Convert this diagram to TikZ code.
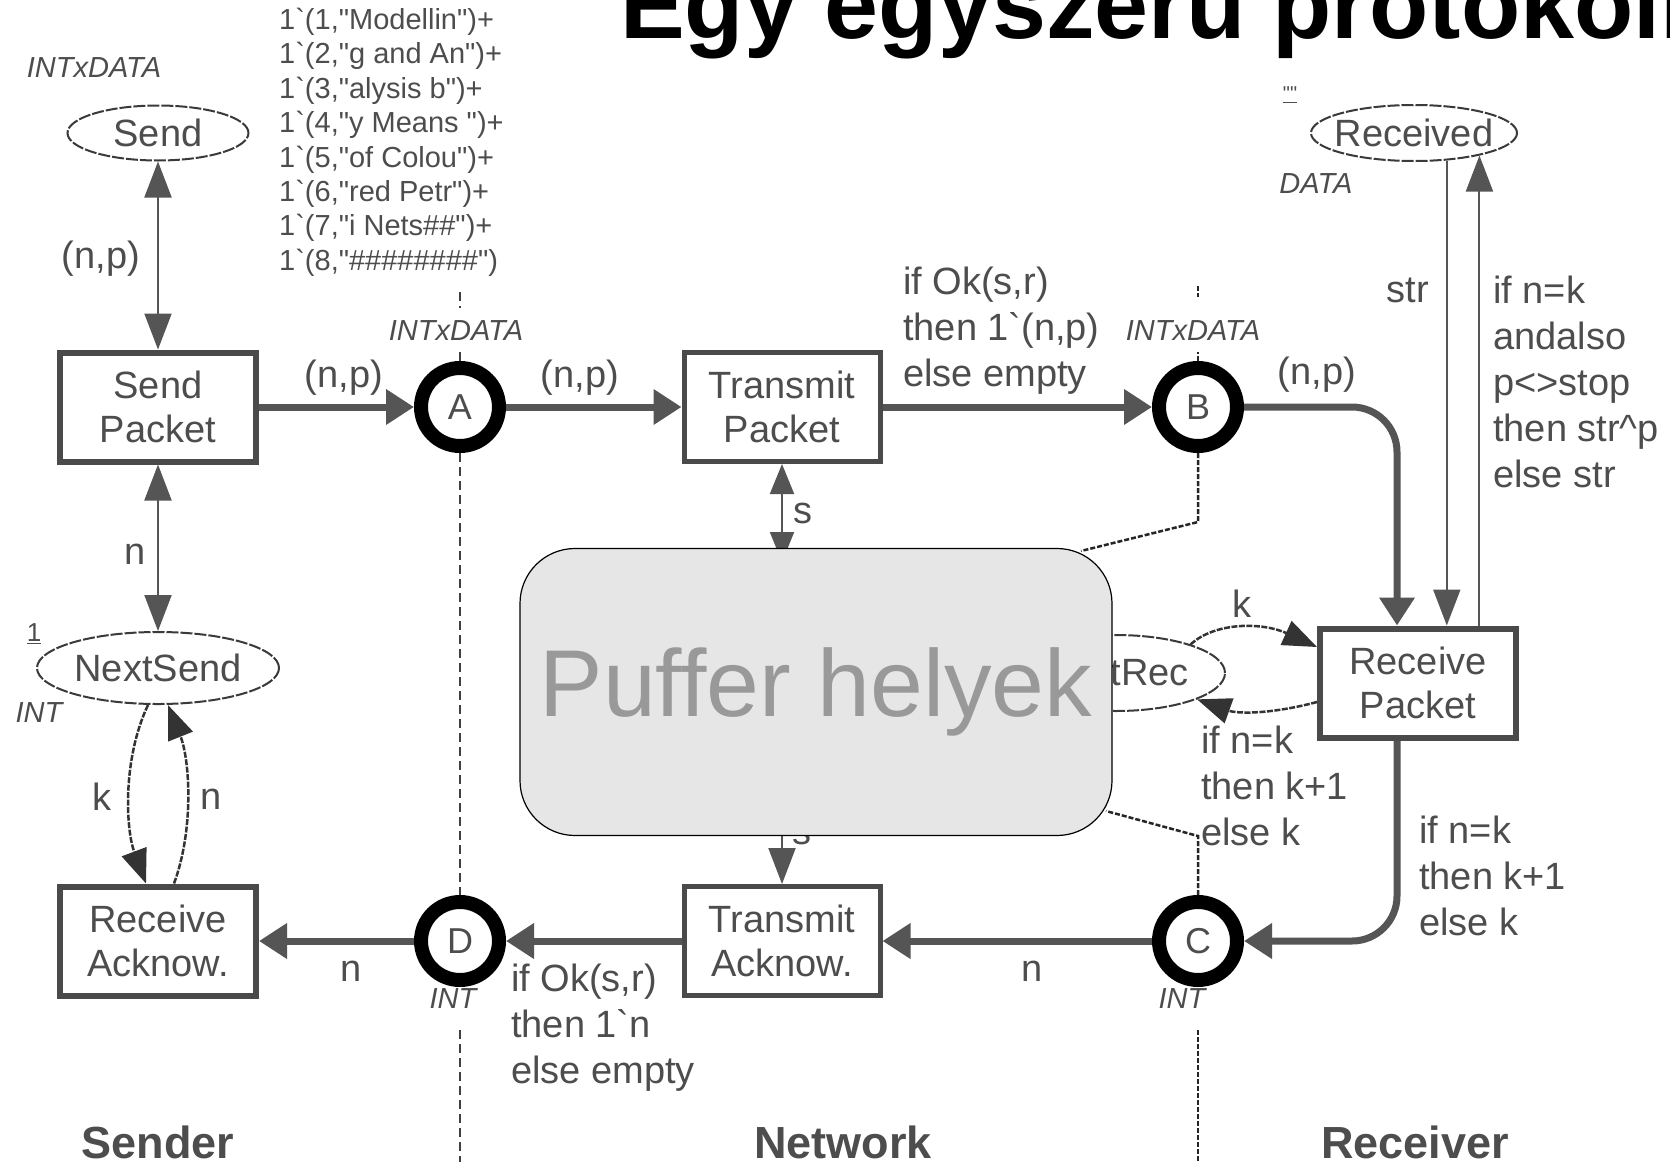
\documentclass[tikz,border=0pt]{standalone}
\usepackage{fontspec}
\setmainfont{Liberation Sans}[Ligatures=TeXOff]
\usetikzlibrary{shapes.geometric,arrows.meta}
\definecolor{txt}{HTML}{4D4D4D}
\definecolor{arcc}{HTML}{555555}
\definecolor{boxc}{HTML}{4A4A4A}
\definecolor{plc}{HTML}{3A3A3A}
\definecolor{pfill}{HTML}{E6E6E6}
\definecolor{ptext}{HTML}{999999}
\pgfdeclarelayer{fg}
\pgfsetlayers{main,fg}
\begin{document}
\begin{tikzpicture}[x=1pt,y=-1pt,
  lbl/.style={font=\fontsize{38}{46}\selectfont, text=txt, inner sep=0pt},
  typ/.style={font=\fontsize{29}{34}\selectfont\itshape, text=txt, inner sep=0pt},
  trans/.style={draw=boxc, line width=6pt, minimum width=196pt, minimum height=109pt, align=center, font=\fontsize{38}{44}\selectfont, text=txt, inner sep=0pt},
  place/.style={ellipse, draw=plc, line width=2pt, dash pattern=on 12pt off 2pt, font=\fontsize{38}{44}\selectfont, text=txt, inner sep=0pt},
  ring/.style={circle, draw=black, line width=14pt, fill=white, minimum size=78pt, inner sep=0pt, font=\fontsize{36}{44}\selectfont, text=txt},
  thk/.style={draw=arcc, line width=7pt, -{Triangle[length=28pt,width=34pt]}},
  thn/.style={draw=arcc, line width=2pt, -{Triangle[length=36pt,width=27pt]}},
  thnboth/.style={draw=arcc, line width=2pt, {Triangle[length=36pt,width=27pt]}-{Triangle[length=36pt,width=27pt]}},
  shortboth/.style={draw=arcc, line width=2pt, {Triangle[length=30pt,width=24pt]}-{Triangle[length=30pt,width=24pt]}},
  thnd/.style={draw=black!80, line width=2.5pt, dash pattern=on 6pt off 1.5pt, -{Triangle[length=34pt,width=26pt]}},
  ldash/.style={draw=black!75, line width=2pt, dash pattern=on 9pt off 5pt},
  rdash/.style={draw=black!85, line width=2.5pt, dash pattern=on 5pt off 2pt},
  bottom/.style={font=\fontsize{45}{50}\selectfont\bfseries, text=txt, inner sep=0pt, anchor=base}
]
\useasboundingbox (0,0) rectangle (1670,1170);
\clip (0,0) rectangle (1670,1170);
\fill[white] (0,0) rectangle (1670,1170);

% title
\node[anchor=base west, inner sep=0pt, font=\fontsize{97}{100}\selectfont\bfseries] (title) at (620,38) {Egy egyszerű protokoll};

% buffer box (on top)
\begin{pgfonlayer}{fg}
\node[draw=black, line width=1.2pt, fill=pfill, rounded corners=55pt, minimum width=592pt, minimum height=287pt, inner sep=0pt, font=\fontsize{95}{100}\selectfont, text=ptext] (pf) at (816,692) {Puffer helyek};
\end{pgfonlayer}

% places
\node[place, minimum width=181pt, minimum height=55pt] (send) at (158,133) {Send};
\node[place, minimum width=242pt, minimum height=72pt] (ns) at (158,668) {NextSend};
\node[place, minimum width=206pt, minimum height=56pt, inner xsep=-22pt] (rec) at (1414,133) {Received};
\node[place, minimum width=218pt, minimum height=76pt, inner xsep=-8pt] (nr) at (1116,673) {NextRec};

% transitions
\node[trans] (sp) at (158,407) {Send\\Packet};
\node[trans] (ra) at (158,941) {Receive\\Acknow.};
\node[trans, line width=5pt] (tp) at (782,407) {Transmit\\Packet};
\node[trans, line width=5pt] (ta) at (782,941) {Transmit\\Acknow.};
\node[trans] (rp) at (1418,683) {Receive\\Packet};

% highlighted places
\node[ring] (A) at (460,407) {A};
\node[ring] (B) at (1198,407) {B};
\node[ring] (C) at (1198,941) {C};
\node[ring] (D) at (460,941) {D};

% type and marking labels
\node[typ] (t1) at (94,68) {INTxDATA};
\node[typ] (t2) at (456,331) {INTxDATA};
\node[typ] (t3) at (1193,331) {INTxDATA};
\node[typ] (t4) at (1316,184) {DATA};
\node[typ] (t5) at (39,713) {INT};
\node[typ] (t6) at (453,999) {INT};
\node[typ] (t7) at (1182,999) {INT};
\node[font=\fontsize{26}{30}\selectfont, text=txt, inner sep=0pt] (m1) at (34,634) {\underline{1}};
\node[font=\fontsize{20}{24}\selectfont, text=txt, inner sep=0pt] (m2) at (1290,95) {\underline{""}};
\node[anchor=north west, align=left, font=\fontsize{29}{34.4}\selectfont, text=txt, inner sep=0pt] (init) at (279,8) {1`(1,"Modellin")+\\1`(2,"g and An")+\\1`(3,"alysis b")+\\1`(4,"y Means ")+\\1`(5,"of Colou")+\\1`(6,"red Petr")+\\1`(7,"i Nets\#\#")+\\1`(8,"\#\#\#\#\#\#\#\#")};

% separators
\draw[ldash] (460,292) -- (460,308);
\draw[ldash] (A.north) -- ++(0,-10);
\draw[ldash] (A.south) -- (D.north);
\draw[ldash] (460,1030) -- (460,1162);
\draw[rdash] (1198,286) -- (1198,297);
\draw[rdash] (B.north) -- ++(0,-9);
\draw[rdash] (B.south) -- (1198,522) -- (1081,551);
\draw[rdash] (C.north) -- (1198,836) -- (1106,811);
\draw[rdash] (1198,1030) -- (1198,1162);

% arcs sender
\draw[thnboth] (send.south) -- (sp.north);
\node[lbl] (l1) at (101,259) {(n,p)};
\draw[thnboth] (sp.south) -- (ns.north);
\node[lbl] (l2) at (135,554) {n};
\draw[thnd] ([xshift=-10pt]ns.south) .. controls (122,760) and (126,830) .. ([xshift=-12pt]ra.north);
\node[lbl] (l3) at (102,797) {k};
\draw[thnd] ([xshift=16pt]ra.north) .. controls (194,830) and (190,760) .. ([xshift=10pt]ns.south);
\node[lbl] (l4) at (211,799) {n};

% arcs top row
\draw[thk] (sp.east) -- (A.west);
\node[lbl] (l5) at (344,378) {(n,p)};
\draw[thk] (A.east) -- (tp.west);
\node[lbl] (l6) at (580,378) {(n,p)};
\draw[thk] (tp.east) -- (B.west);
\node[lbl, anchor=north west, align=left] (l7) at (903,267) {if Ok(s,r)\\then 1`(n,p)\\else empty};
\path (rp.north west) ++(80,0) coordinate (rpin);
\draw[thk, rounded corners=45pt] (B.east) -| (rpin);
\node[lbl] (l8) at (1317,375) {(n,p)};

% received
\draw[thn] (rec.-40.8) -- (rec.-40.8 |- rp.north);
\node[lbl] (l9) at (1408,290) {str};
\draw[thn] (rec.-19.7 |- rp.north) -- (rec.-19.7);
\node[lbl, anchor=north west, align=left] (l10) at (1493,276) {if n=k\\andalso\\p<>stop\\then str\textasciicircum p\\else str};

% NextRec arcs
\draw[thnd] (nr.21) .. controls (1215,622) and (1262,622) .. ([yshift=36pt]rp.west);
\node[lbl] (l11) at (1242,604) {k};
\draw[thnd] ([yshift=-19pt]rp.west) .. controls (1272,714) and (1238,714) .. (nr.-18);
\node[lbl, anchor=north west, align=left] (l12) at (1201,726) {if n=k\\then k+1\\else k};

% transmit packet <-> buffer
\coordinate (pfin) at (782,562);
\draw[shortboth] (tp.south) -- (pfin);
\node[lbl] (l13) at (803,513) {s};
\node[lbl] (l14) at (802,834) {s};
\draw[thn] (pf.south -| ta.north) -- (ta.north);

% bottom row
\path (rp.south west) ++(80,0) coordinate (rpout);
\draw[thk, rounded corners=45pt] (rpout) |- (C.east);
\node[lbl, anchor=north west, align=left] (l15) at (1419,816) {if n=k\\then k+1\\else k};
\draw[thk] (C.west) -- (ta.east);
\node[lbl] (l16) at (1032,971) {n};
\draw[thk] (ta.west) -- (D.east);
\node[lbl, anchor=north west, align=left] (l17) at (511,964) {if Ok(s,r)\\then 1`n\\else empty};
\draw[thk] (D.west) -- (ra.east);
\node[lbl] (l18) at (351,971) {n};

% column titles
\node[bottom] (s1) at (158,1158) {Sender};
\node[bottom] (s2) at (843,1158) {Network};
\node[bottom] (s3) at (1415,1158) {Receiver};
\end{tikzpicture}
\end{document}
